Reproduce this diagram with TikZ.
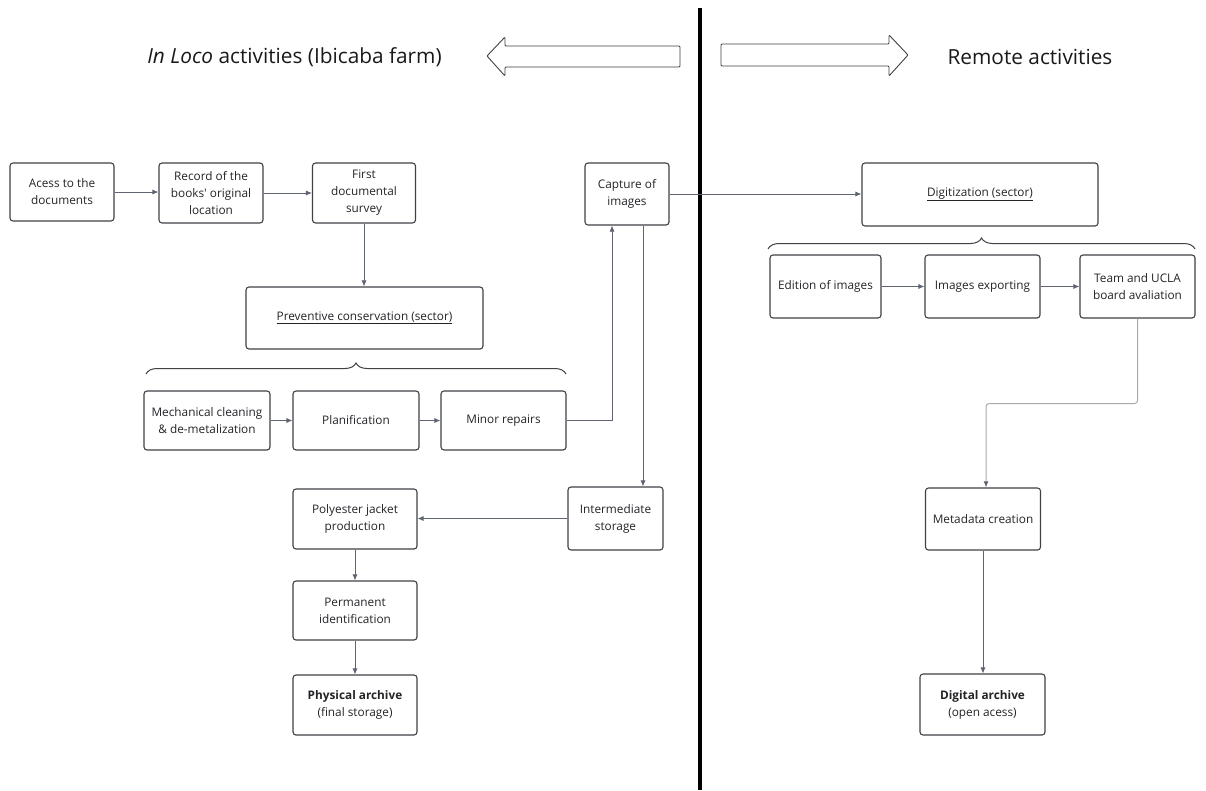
\documentclass[tikz,border=0pt]{standalone}
\usepackage{fontspec}
\setmainfont{Open Sans}[Ligatures=TeXOff]
\usetikzlibrary{arrows.meta,decorations.pathreplacing,calc}
\definecolor{boxline}{RGB}{65,65,70}
\definecolor{txt}{RGB}{35,35,40}
\definecolor{conncol}{RGB}{95,100,115}
\definecolor{lightconn}{RGB}{170,170,175}
\tikzset{
  box/.style={draw=boxline, line width=1.1pt, rounded corners=3pt, align=center,
    font=\fontsize{11.8}{17}\selectfont, text=txt, inner sep=0pt},
  conn/.style={draw=conncol, line width=0.8pt, -{Latex[length=6pt,width=5pt]}},
  lconn/.style={draw=lightconn, line width=1pt, rounded corners=3pt, -{Latex[length=6pt,width=5pt,color=conncol]}},
  bracestyle/.style={draw=boxline, line width=1pt, decorate, decoration={brace, amplitude=11pt}},
  blockarrow/.style={draw=boxline, line width=0.9pt, rounded corners=1pt, fill=white},
  title/.style={font=\fontsize{20.8}{24}\selectfont, text=black!90, inner sep=0pt}
}
\begin{document}
\begin{tikzpicture}[x=1pt,y=-1pt]
\useasboundingbox (0,0) rectangle (1206,790);
% divider
\draw[line width=4.5pt, black] (700,8) -- (700,790);
% block arrows
\draw[blockarrow] (487,56) -- (505,37) -- (505,46) -- (680,46) -- (680,67) -- (505,67) -- (505,76) -- cycle;
\draw[blockarrow] (908,55) -- (889,35) -- (889,44) -- (721,44) -- (721,66) -- (889,66) -- (889,76) -- cycle;
% titles
\node[title] (tleft) at (294.5,57) {\textit{In Loco} activities (Ibicaba farm)};
\node[title] (tright) at (1030,57) {Remote activities};
% left boxes
\node[box, minimum width=104pt, minimum height=58pt] (acc) at (62,192) {Acess to the\\documents};
\node[box, minimum width=104pt, minimum height=60pt] (rec) at (211,193) {Record of the\\books' original\\location};
\node[box, minimum width=103pt, minimum height=60pt] (fst) at (364,193) {First\\documental\\survey};
\node[box, minimum width=237pt, minimum height=62pt] (prev) at (364.5,318) {\underline{Preventive conservation (sector)}};
\node[box, minimum width=126pt, minimum height=59pt] (mech) at (207,420.5) {Mechanical cleaning\\\& de-metalization};
\node[box, minimum width=126pt, minimum height=59pt] (plan) at (356,420.5) {Planification};
\node[box, minimum width=125pt, minimum height=59pt] (minor) at (503.5,420.5) {Minor repairs};
\node[box, minimum width=84pt, minimum height=62pt] (cap) at (627,194) {Capture of\\images};
\node[box, minimum width=95pt, minimum height=63pt] (inter) at (615.5,518.5) {Intermediate\\storage};
\node[box, minimum width=124pt, minimum height=60pt] (poly) at (355,519) {Polyester jacket\\production};
\node[box, minimum width=124pt, minimum height=59pt] (perm) at (355,610.5) {Permanent\\identification};
\node[box, minimum width=124pt, minimum height=60pt] (phys) at (355,705) {\textbf{Physical archive}\\(final storage)};
% right boxes
\node[box, minimum width=236pt, minimum height=63pt] (dig) at (980,194.5) {\underline{Digitization (sector)}};
\node[box, minimum width=111pt, minimum height=63pt] (edit) at (825.5,286.5) {Edition of images};
\node[box, minimum width=115pt, minimum height=63pt] (exp) at (982.5,286.5) {Images exporting};
\node[box, minimum width=115pt, minimum height=63pt] (team) at (1137.5,286.5) {Team and UCLA\\board avaliation};
\node[box, minimum width=115pt, minimum height=62pt] (meta) at (983,519) {Metadata creation};
\node[box, minimum width=125pt, minimum height=61pt] (darch) at (982.5,704.5) {\textbf{Digital archive}\\(open acess)};
% braces
\draw[bracestyle] (146,374) -- (566,374);
\draw[bracestyle] (768,249) -- (1195,249);
% connectors left
\draw[conn] (acc.east) -- (rec.west |- acc.east);
\draw[conn] (rec.east) -- (fst.west);
\draw[conn] (fst.south) -- (prev.north -| fst.south);
\draw[conn] (mech.east) -- (plan.west);
\draw[conn] (plan.east) -- (minor.west);
\coordinate (capin) at ([xshift=-15pt]cap.south);
\coordinate (capout) at ([xshift=16pt]cap.south);
\draw[conn] (minor.east) -| (capin);
\draw[conn] (capout) -- (capout |- inter.north);
\draw[conn] (inter.west) -- (poly.east |- inter.west);
\draw[conn] (poly.south) -- (perm.north);
\draw[conn] (perm.south) -- (phys.north);
% connectors right
\draw[conn] (cap.east) -- (dig.west |- cap.east);
\draw[conn] (edit.east) -- (exp.west);
\draw[conn] (exp.east) -- (team.west);
\coordinate (bend) at ($(team.south)+(0,85)$);
\draw[lconn] (team.south) -- (bend) -| ([xshift=3pt]meta.north);
\draw[conn] (meta.south) -- (darch.north -| meta.south);
\end{tikzpicture}
\end{document}
